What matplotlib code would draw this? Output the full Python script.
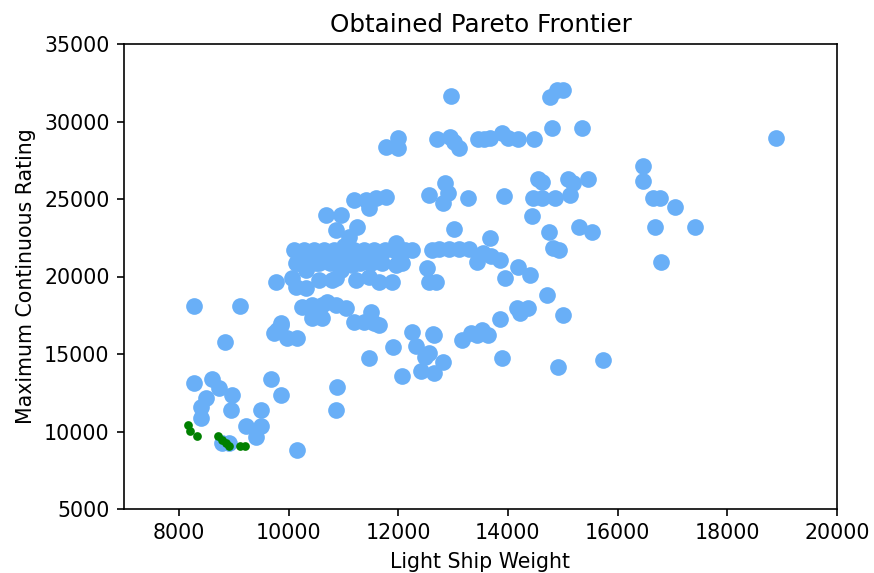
import matplotlib
matplotlib.use("Agg")
import matplotlib.pyplot as plt

# Explored designs (light ship weight, maximum continuous rating)
explored_lsw = [
    8280, 9120, 8850, 8280, 8600, 8735, 8970, 8500, 8400, 8950, 8400, 9680, 9870, 9500, 9230, 9500,
    9410, 8790, 8920, 10160, 10890, 10870,
    9870, 9740, 9980, 10160, 9795, 9865,
    10250, 10435, 10615, 10710, 10870, 11050, 10435, 10615, 11200, 11380, 11510, 11565, 11650,
    10105, 10290, 10470, 10650, 10835, 11020, 11200, 11380, 11565, 11750, 11930, 12115, 12260,
    11965, 10325, 10505, 10140, 10300, 11235, 11470, 11655, 11895, 11965, 9775, 10070, 10140, 10325,
    10560, 10800, 10870, 11165, 11470, 12060, 11100, 10700, 10960,
    10150, 10350, 10550, 10750, 10900, 11300, 11500, 11700, 12000,
    12530, 12570, 12695, 12620,
    11110, 10870, 11255, 11020,
    10690, 10960, 11200, 11420, 11600, 11785, 11470,
    11990, 11780, 11990,
    12570, 12845, 12810, 12900, 12970,
    12715, 12935, 13025, 13100, 13450, 13560, 13665, 13900, 13995, 14175, 14470,
    13280, 13920, 13010,
    12750, 12930, 13110, 13290,
    13665, 13540, 13430, 13850, 13700, 14175, 14400, 13940,
    14815, 14940, 14430, 14740, 14450, 14630, 14850, 14540, 14615,
    14760, 14890, 15000, 14800, 15345, 15090, 15180, 15455, 15125, 15290, 15530,
    14705, 14160, 14360, 14215, 13850, 15000,
    12660, 13170, 13335, 13520, 13630, 13440,
    13900, 14905, 15730,
    12260, 12640, 11910, 12330, 12570, 12480, 12810, 12420, 12660, 12075, 11470,
    18890, 16460, 16460, 16640, 16770, 17040, 16680, 17410, 16800,
]
explored_mcr = [
    18100, 18100, 15750, 13130, 13400, 12800, 12350, 12150, 11600, 11400, 10870, 13400, 12350, 11400, 10350, 10350,
    9650, 9250, 9250, 8800, 12870, 11390,
    16870, 16350, 16030, 16030, 16550, 17000,
    18030, 18160, 18160, 18350, 18160, 17960, 17320, 17320, 17060, 17060, 17700, 17000, 16870,
    21700, 21700, 21700, 21700, 21700, 21700, 21700, 21700, 21700, 21700, 21700, 21700, 21700,
    22160, 20415, 20870, 20900, 21000, 19770, 19960, 19640, 19640, 20740, 19640, 19900, 19320, 19250,
    19770, 19770, 19900, 20740, 20930, 20870, 21200, 21300, 20400,
    20900, 20900, 20900, 20900, 20900, 20900, 20900, 20900, 20900,
    20550, 19640, 19640, 21700,
    22540, 23000, 23190, 22000,
    23960, 23960, 24930, 24930, 25060, 25120, 24400,
    28930, 28350, 28280,
    25250, 26030, 24740, 25400, 31640,
    28870, 28990, 28670, 28280, 28870, 28900, 28930, 29250, 28930, 28870, 28870,
    25060, 25190, 23060,
    21770, 21770, 21770, 21770,
    22480, 21510, 20930, 21060, 21300, 20610, 20090, 19900,
    21830, 21710, 23900, 22870, 25060, 25060, 25060, 26290, 26090,
    31570, 32030, 32030, 29570, 29570, 26290, 26030, 26290, 25250, 23190, 22870,
    18800, 17970, 17970, 17640, 17260, 17510,
    16220, 15900, 16350, 16550, 16220, 16220,
    14740, 14160, 14610,
    16420, 16260, 15450, 15510, 15060, 14800, 14480, 13900, 13770, 13580, 14740,
    28930, 27120, 26160, 25060, 25060, 24480, 23190, 23190, 20930,
]

# Pareto-optimal designs
pareto_lsw = [8170, 8205, 8330, 8720, 8790, 8860, 8920, 9120, 9210]
pareto_mcr = [10420, 10030, 9710, 9710, 9450, 9260, 9070, 9070, 9070]

DPI = 148
fig = plt.figure(figsize=(874 / DPI, 573 / DPI), dpi=DPI)
ax = fig.add_axes([124 / 874, 1 - 509 / 573, (837 - 124) / 874, (509 - 44) / 573])

ax.scatter(explored_lsw, explored_mcr, s=66, color="#69aff7", linewidths=0, zorder=2)
ax.scatter(pareto_lsw, pareto_mcr, s=18, color="green", linewidths=0, zorder=3)

ax.set_xlim(7000, 20000)
ax.set_ylim(5000, 35000)
ax.set_xticks([8000, 10000, 12000, 14000, 16000, 18000, 20000])
ax.set_yticks([5000, 10000, 15000, 20000, 25000, 30000, 35000])
ax.set_title("Obtained Pareto Frontier")
ax.set_xlabel("Light Ship Weight")
ax.set_ylabel("Maximum Continuous Rating")

fig.savefig("out.png", dpi=DPI)
